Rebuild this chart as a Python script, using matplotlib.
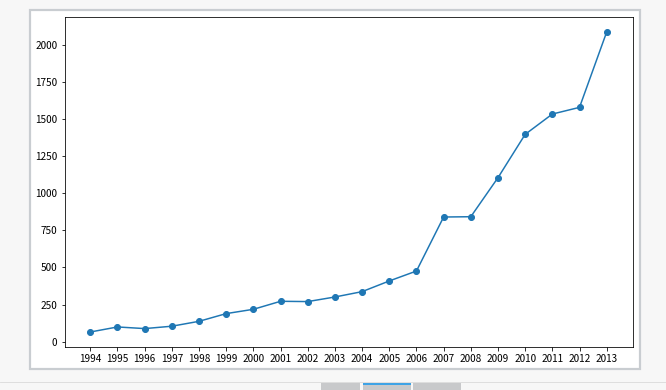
import matplotlib
matplotlib.use("Agg")
import matplotlib.pyplot as plt
from matplotlib.patches import Rectangle

plt.rcParams['font.family'] = ['Noto Sans CJK SC', 'DejaVu Sans']

years = [1994, 1995, 1996, 1997, 1998, 1999, 2000, 2001, 2002, 2003,
         2004, 2005, 2006, 2007, 2008, 2009, 2010, 2011, 2012, 2013]
values = [65, 99, 88, 104, 137, 189, 218, 272, 270, 301,
          337, 409, 476, 840, 842, 1105, 1397, 1534, 1579, 2087]

W, H = 666, 390
fig = plt.figure(figsize=(W / 72, H / 72), dpi=72, facecolor='#f7f7f7')

# white image area with grey frame (page screenshot surroundings)
fig.patches.append(Rectangle((29.8 / W, 1 - 369.2 / H), 610.4 / W, 359.4 / H,
                             transform=fig.transFigure, facecolor='white',
                             edgecolor='#c9cdd1', linewidth=2.2, zorder=-1))
# bottom rule and tabs
fig.lines.append(plt.Line2D([0, 1], [1 - 381.7 / H] * 2, transform=fig.transFigure,
                            color='#d8d8d8', linewidth=0.8, zorder=-1))
for x0, x1 in [(321, 360), (363, 411), (413, 461)]:
    fig.patches.append(Rectangle((x0 / W, 0), (x1 - x0) / W, 7 / H,
                                 transform=fig.transFigure, facecolor='#c8c9cb',
                                 edgecolor='none', zorder=-1))
fig.patches.append(Rectangle((363 / W, 5 / H), 48 / W, 2.5 / H,
                             transform=fig.transFigure, facecolor='#3ea3e6',
                             edgecolor='none', zorder=-1))

ax = fig.add_axes([64.5 / W, 1 - 347 / H, 568 / W, 330 / H])
ax.plot(years, values, marker='o')
ax.set_xticks(years)
ax.set_xticklabels([str(y) for y in years])
ax.tick_params(labelsize=10)

fig.savefig('out.png', dpi=72, facecolor=fig.get_facecolor())
